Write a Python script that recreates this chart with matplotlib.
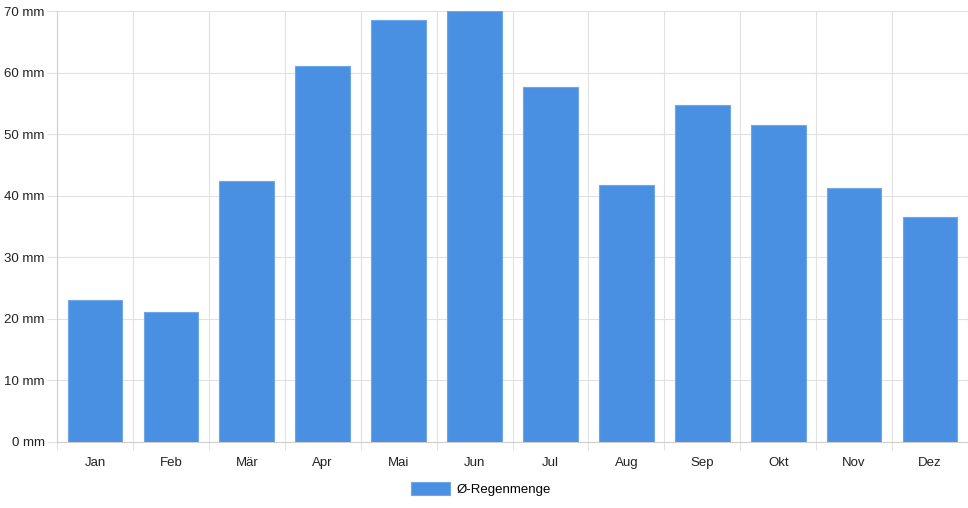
import numpy as np
import matplotlib
matplotlib.use("Agg")
import matplotlib.pyplot as plt
from matplotlib.ticker import FuncFormatter

plt.rcParams['font.family'] = ['Liberation Sans', 'DejaVu Sans']

months = ["Jan", "Feb", "Mär", "Apr", "Mai", "Jun", "Jul", "Aug", "Sep", "Okt", "Nov", "Dez"]
rain_mm = [23.1, 21.1, 42.4, 61.1, 68.5, 70.0, 57.7, 41.7, 54.7, 51.5, 41.3, 36.5]
series_label = "Ø-Regenmenge"

bar_color = "#4a90e2"
grid_color = "#e1e1e1"

fig = plt.figure(figsize=(9.68, 5.08), dpi=100)
ax = fig.add_axes([57 / 968, 66 / 508, 911 / 968, 431 / 508])

x = np.arange(len(months))
ax.bar(x, rain_mm, width=0.72, color=bar_color, edgecolor="#6fa6e8",
       linewidth=0.8, label=series_label, zorder=3)

ax.set_xlim(-0.5, len(months) - 0.5)
ax.set_ylim(0, 70)
ax.set_yticks(range(0, 71, 10))
ax.yaxis.set_major_formatter(FuncFormatter(lambda v, p: f"{int(v)} mm"))
ax.set_xticks(x)
ax.set_xticklabels(months)

# category grid lines sit between the bars
ax.set_xticks(np.arange(-0.5, len(months), 1), minor=True)
ax.grid(True, axis="y", which="major", color=grid_color, linewidth=0.8, zorder=0)
ax.grid(True, axis="x", which="minor", color=grid_color, linewidth=0.8, zorder=0)
ax.tick_params(axis="x", which="major", length=0, pad=10.5, labelsize=9.5, colors="#222222")
ax.tick_params(axis="x", which="minor", length=6, color=grid_color, width=0.8)
ax.tick_params(axis="y", length=7, pad=2, color=grid_color, width=0.8,
               labelsize=9.5, colors="#222222")
ax.tick_params(axis="y", colors=grid_color, labelcolor="#222222")

for side in ["top", "right"]:
    ax.spines[side].set_visible(False)
for side in ["left", "bottom"]:
    ax.spines[side].set_color("#cfcfcf")
    ax.spines[side].set_linewidth(0.8)

fig.legend(loc="lower center", bbox_to_anchor=(0.497, 0.0), frameon=False,
           fontsize=9.5, handlelength=2.9, handleheight=1.1, handletextpad=0.5)

fig.savefig("out.png", dpi=100)
